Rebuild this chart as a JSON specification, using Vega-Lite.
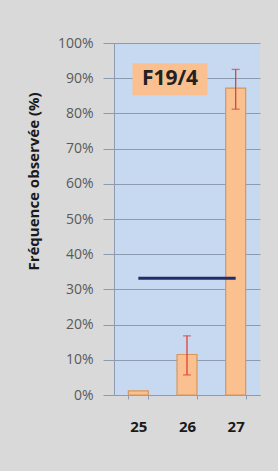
{
  "$schema": "https://vega.github.io/schema/vega-lite/v6.json",
  "width": 146,
  "height": 352,
  "autosize": {"type": "none"},
  "padding": {"left": 114, "top": 43, "right": 18, "bottom": 76},
  "background": "#D9D9D9",
  "config": {
    "view": {"fill": "#C6D9F1", "stroke": null},
    "font": "Open Sans",
    "axisY": {
      "tickCount": 10,
      "labelOverlap": false,
      "format": ".0%",
      "titleFont": "Open Sans",
      "titleFontSize": 15,
      "titleFontWeight": "bold",
      "titleColor": "#1a1a1a",
      "titleX": -81,
      "titleY": 138,
      "titleAlign": "center",
      "titleBaseline": "middle",
      "titleAngle": -90,
      "labelFont": "Open Sans",
      "labelFontSize": 14,
      "labelColor": "#595959",
      "labelPadding": 10,
      "tickSize": 11,
      "tickColor": "#8C9BB0",
      "gridColor": "#8C9BB0",
      "gridWidth": 1,
      "domainColor": "#8C9BB0"
    }
  },
  "datasets": {
    "bars": [
      {"classe": "25", "freq": 0.012},
      {"classe": "26", "freq": 0.115, "lo": 0.057, "hi": 0.168},
      {"classe": "27", "freq": 0.872, "lo": 0.812, "hi": 0.925}
    ],
    "ref": [{"debut": "25", "fin": "27", "seuil": 0.332}],
    "etiquette": [{"classe": "26", "pos": 0.897, "texte": "F19/4"}]
  },
  "encoding": {
    "x": {
      "field": "classe",
      "type": "nominal",
      "sort": ["25", "26", "27"],
      "scale": {"domain": ["25", "26", "27"], "paddingInner": 0.59, "paddingOuter": 0.295},
      "axis": {
        "title": null,
        "labelAngle": 0,
        "labelFont": "Open Sans",
        "labelFontSize": 15,
        "labelFontWeight": "bold",
        "labelColor": "#1a1a1a",
        "labelPadding": 20,
        "tickBand": "extent",
        "tickSize": 4,
        "tickColor": "#8C9BB0",
        "domainColor": "#8C9BB0",
        "grid": false
      }
    }
  },
  "layer": [
    {
      "data": {"name": "bars"},
      "mark": {"type": "bar", "fill": "#FAC08F", "stroke": "#D8965C", "strokeWidth": 1.2},
      "encoding": {
        "y": {
          "field": "freq",
          "type": "quantitative",
          "title": "Fréquence observée (%)",
          "scale": {"domain": [0, 1]}
        }
      }
    },
    {
      "data": {"name": "bars"},
      "transform": [{"filter": "datum.lo != null"}],
      "mark": {"type": "rule", "color": "#E0403C", "strokeWidth": 1.3},
      "encoding": {
        "y": {"field": "lo", "type": "quantitative", "title": "Fréquence observée (%)"},
        "y2": {"field": "hi"}
      }
    },
    {
      "data": {"name": "bars"},
      "transform": [{"filter": "datum.lo != null"}],
      "mark": {"type": "tick", "color": "#E0403C", "thickness": 1.3, "size": 8, "orient": "horizontal"},
      "encoding": {"y": {"field": "lo", "type": "quantitative", "title": "Fréquence observée (%)"}}
    },
    {
      "data": {"name": "bars"},
      "transform": [{"filter": "datum.lo != null"}],
      "mark": {"type": "tick", "color": "#E0403C", "thickness": 1.3, "size": 8, "orient": "horizontal"},
      "encoding": {"y": {"field": "hi", "type": "quantitative", "title": "Fréquence observée (%)"}}
    },
    {
      "data": {"name": "ref"},
      "mark": {"type": "rule", "color": "#1F2D6B", "strokeWidth": 3},
      "encoding": {
        "x": {"field": "debut", "type": "nominal"},
        "x2": {"field": "fin"},
        "y": {"field": "seuil", "type": "quantitative", "title": "Fréquence observée (%)"}
      }
    },
    {
      "data": {"name": "etiquette"},
      "mark": {"type": "point", "shape": "M-1,-0.4267L1,-0.4267L1,0.4267L-1,0.4267Z", "filled": true, "fill": "#FAC08F", "opacity": 1, "size": 5625, "strokeWidth": 0, "xOffset": -17},
      "encoding": {
        "y": {"field": "pos", "type": "quantitative", "title": "Fréquence observée (%)"}
      }
    },
    {
      "data": {"name": "etiquette"},
      "mark": {"type": "text", "font": "Open Sans", "fontSize": 21, "fontWeight": "bold", "color": "#222222", "xOffset": -17, "baseline": "middle", "align": "center"},
      "encoding": {
        "y": {"field": "pos", "type": "quantitative", "title": "Fréquence observée (%)"},
        "text": {"field": "texte"}
      }
    }
  ]
}
